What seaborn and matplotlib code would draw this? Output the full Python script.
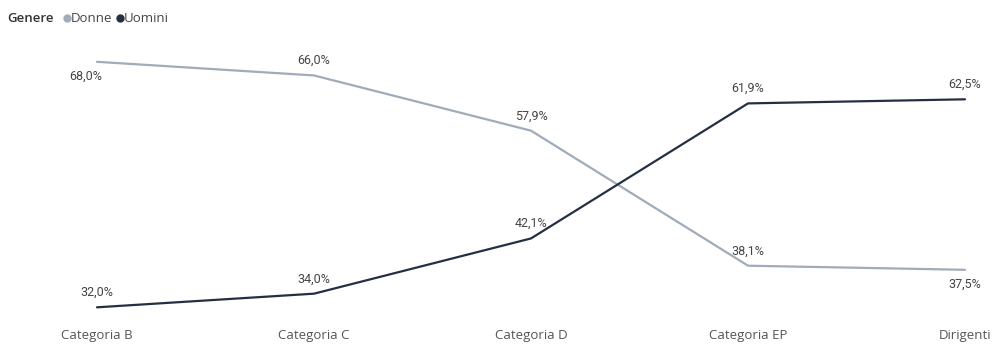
import pandas as pd
import matplotlib.pyplot as plt
import seaborn as sns
from matplotlib.lines import Line2D

categories = ['Categoria B', 'Categoria C', 'Categoria D', 'Categoria EP', 'Dirigenti']
donne = [68.0, 66.0, 57.9, 38.1, 37.5]
uomini = [32.0, 34.0, 42.1, 61.9, 62.5]
# label above (+1) or below (-1) the point
donne_pos = [-1, 1, 1, 1, -1]
uomini_pos = [1, 1, 1, 1, 1]

colors = {'Donne': '#a0acb8', 'Uomini': '#243041'}

df = pd.DataFrame({
    'Categoria': categories * 2,
    'Valore': donne + uomini,
    'Genere': ['Donne'] * len(categories) + ['Uomini'] * len(categories),
})

sns.set_style('white')
plt.rcParams['font.family'] = ['Open Sans', 'DejaVu Sans']

fig = plt.figure(figsize=(9.98, 3.44), dpi=100)
ax = fig.add_axes([0, 0.067, 1, 0.793])

sns.lineplot(data=df, x='Categoria', y='Valore', hue='Genere', palette=colors,
             linewidth=1.6, ax=ax, legend=False, sort=False)

ax.set_ylim(30, 70)
ax.set_xlim(-0.447, 4.152)
ax.set_xlabel('')
ax.set_ylabel('')
ax.set_yticks([])
ax.tick_params(axis='x', length=0, pad=6, labelsize=9.5, labelcolor='#555555')
for s in ax.spines.values():
    s.set_visible(False)

for vals, pos in [(donne, donne_pos), (uomini, uomini_pos)]:
    for i, (v, p) in enumerate(zip(vals, pos)):
        txt = f'{v:.1f}%'.replace('.', ',')
        dx = -8 if i == 0 and p < 0 else 0
        ax.annotate(txt, (i, v), xytext=(dx, 6 * p), textcoords='offset points',
                    ha='center', va='bottom' if p > 0 else 'top',
                    fontsize=9, color='#444444', family=['Roboto', 'DejaVu Sans'])

fig.text(0.007, 0.945, 'Genere', fontsize=9.5, color='#333333', fontweight='semibold', va='center')
handles = [Line2D([], [], marker='o', linestyle='', color=colors[g], markersize=5) for g in ['Donne', 'Uomini']]
fig.legend(handles, ['Donne', 'Uomini'], loc='center left', bbox_to_anchor=(0.055, 0.945),
           ncol=2, frameon=False, fontsize=9.5, handletextpad=-0.1, columnspacing=0.2,
           handlelength=0.8, borderpad=0, labelcolor='#444444')

fig.savefig('out.png', dpi=100)
